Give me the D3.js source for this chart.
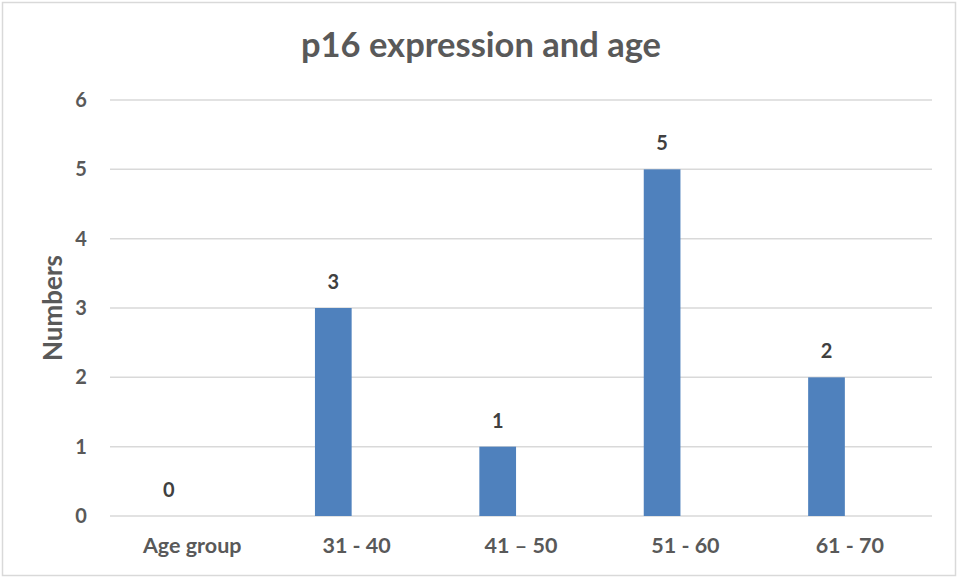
<!DOCTYPE html>
<html><head><meta charset="utf-8">
<script src="https://cdn.jsdelivr.net/npm/d3@7"></script>
<style>body{margin:0;background:#fff;} svg{display:block;}</style>
</head><body>
<script>
const categories = ["Age group", "31 - 40", "41 \u2013 50", "51 - 60", "61 - 70"];
const values = [0, 3, 1, 5, 2];
const yTicks = [0, 1, 2, 3, 4, 5, 6];
const title = "p16 expression and age";
const yTitle = "Numbers";

const W = 962, H = 577;
const m = {left: 110, right: 30, top: 100, bottom: 61};
const svg = d3.select("body").append("svg").attr("width", W).attr("height", H);
const font = "Lato, 'Open Sans', sans-serif";

svg.append("rect").attr("x", 2.5).attr("y", 2.5).attr("width", 953).attr("height", 573)
  .attr("fill", "#fff").attr("stroke", "#d9d9d9").attr("stroke-width", 1.5);

const x = d3.scaleBand().domain(categories).range([m.left, W - m.right]);
const y = d3.scaleLinear().domain([0, 6]).range([H - m.bottom, m.top]);

// gridlines
svg.append("g").selectAll("line").data(yTicks).join("line")
  .attr("x1", m.left).attr("x2", W - m.right)
  .attr("y1", d => y(d)).attr("y2", d => y(d))
  .attr("stroke", "#d9d9d9").attr("stroke-width", 1.5);

// y axis labels
const yAxis = svg.append("g").attr("transform", `translate(${m.left},0)`)
  .call(d3.axisLeft(y).tickValues(yTicks).tickSize(0).tickPadding(29).tickFormat(d3.format("d")));
yAxis.select(".domain").remove();
yAxis.selectAll("text").attr("font-family", font).attr("font-weight", "bold")
  .attr("font-size", 20).attr("fill", "#595959").attr("text-anchor", "middle");

// x axis labels
const xAxis = svg.append("g").attr("transform", `translate(0,${H - m.bottom})`)
  .call(d3.axisBottom(x).tickSize(0).tickPadding(22));
xAxis.select(".domain").remove();
xAxis.selectAll("text").attr("font-family", font).attr("font-weight", "bold")
  .attr("font-size", 21.5).attr("fill", "#595959");

const barW = 36.7;
const offset = -23.3;
const cx = d => x(d) + x.bandwidth() / 2 + offset;

svg.append("g").selectAll("rect").data(categories).join("rect")
  .attr("x", (d) => cx(d) - barW / 2)
  .attr("y", (d, i) => y(values[i]))
  .attr("width", barW)
  .attr("height", (d, i) => y(0) - y(values[i]))
  .attr("fill", "#4f81bd");

svg.append("g").selectAll("text").data(categories).join("text")
  .attr("x", d => cx(d))
  .attr("y", (d, i) => y(values[i]) - 19)
  .attr("text-anchor", "middle")
  .attr("font-family", font).attr("font-weight", "bold").attr("font-size", 20)
  .attr("fill", "#404040")
  .text((d, i) => values[i]);

svg.append("text").attr("x", 481).attr("y", 57).attr("text-anchor", "middle")
  .attr("font-family", font).attr("font-weight", "bold").attr("font-size", 34.5)
  .attr("fill", "#595959").text(title);

svg.append("text").attr("transform", `translate(62,${(y(0) + y(6)) / 2}) rotate(-90)`)
  .attr("text-anchor", "middle")
  .attr("font-family", font).attr("font-weight", "bold").attr("font-size", 26)
  .attr("fill", "#595959").text(yTitle);
</script>
</body></html>
